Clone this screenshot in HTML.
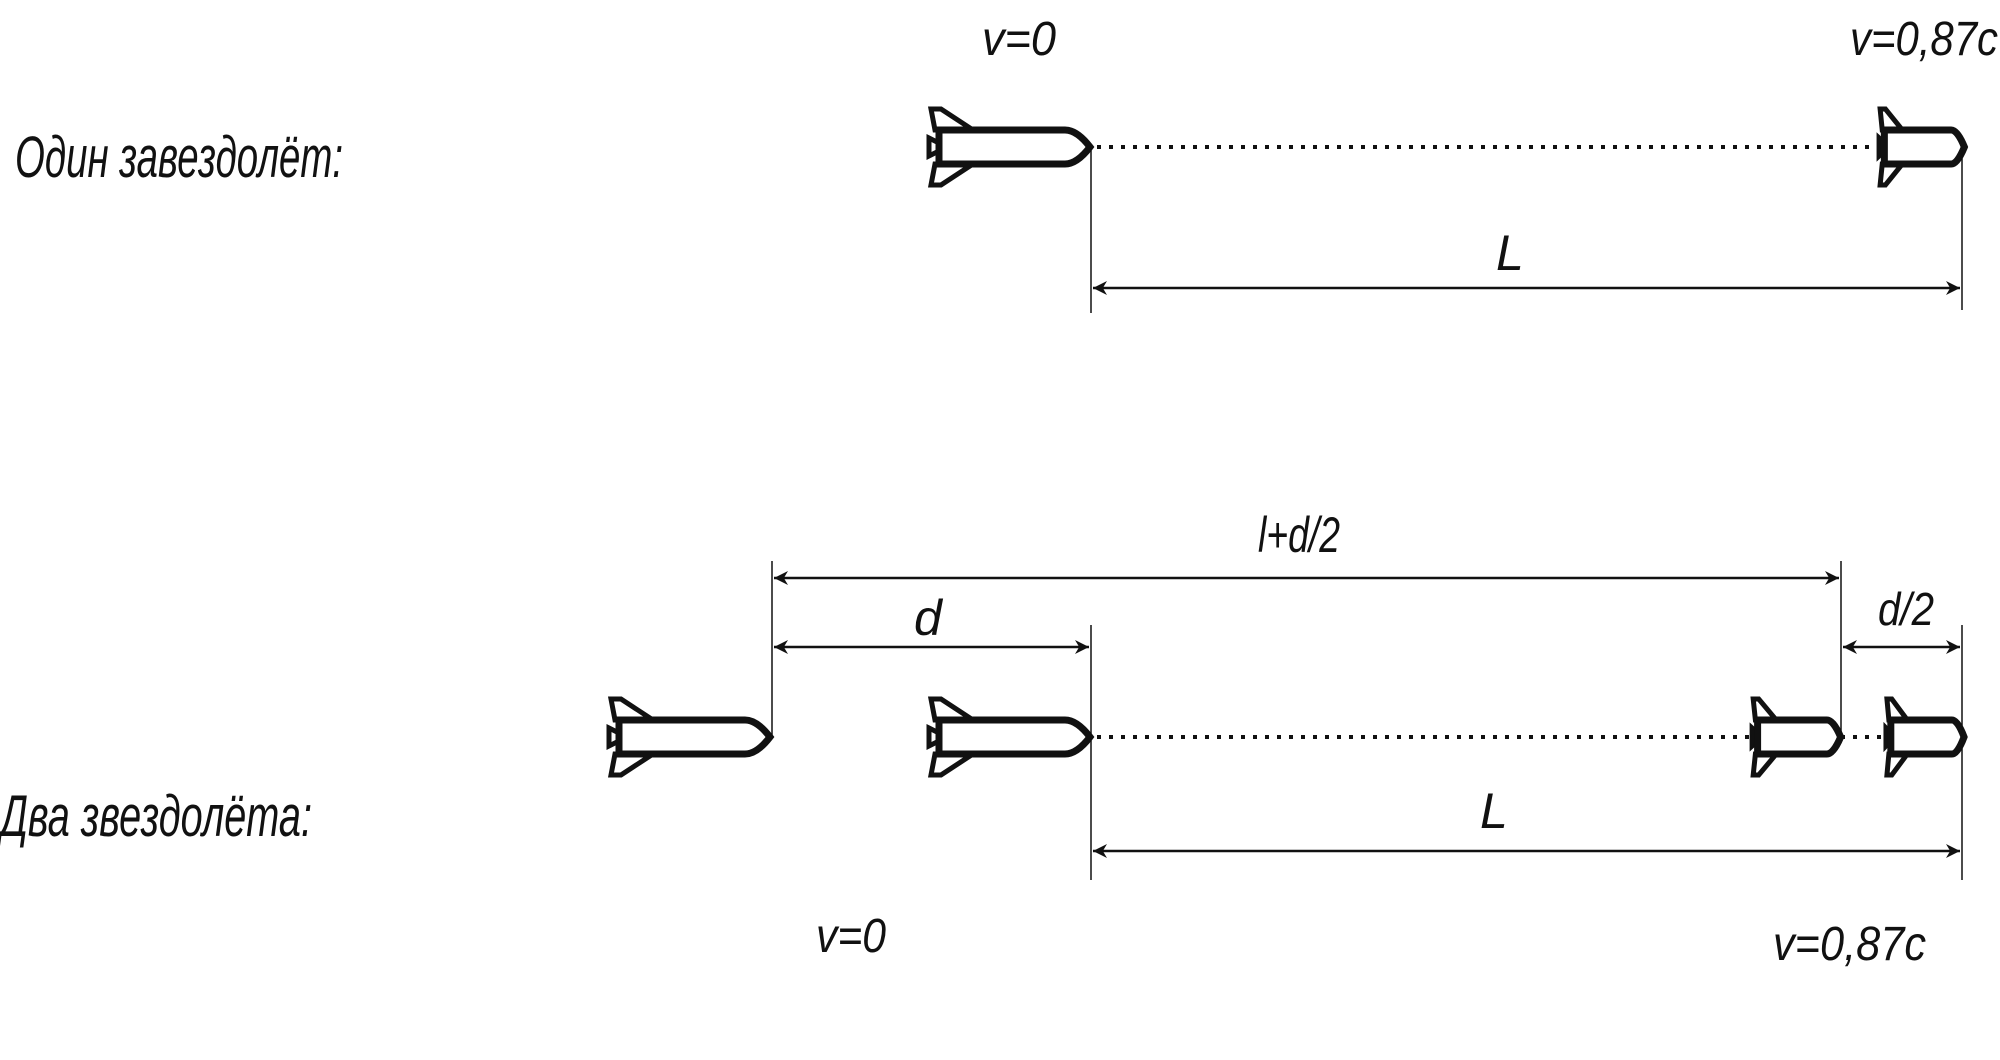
<!DOCTYPE html>
<html><head><meta charset="utf-8"><style>
html,body{margin:0;padding:0;background:#fff;}
svg{display:block}
text{font-family:"Liberation Sans","DejaVu Sans",sans-serif;font-style:italic;fill:#111;}
</style></head><body>
<svg width="2000" height="1060" viewBox="0 0 2000 1060" xmlns="http://www.w3.org/2000/svg">
<defs>
<g id="rk">
  <path d="M8,-17 L4,-38 L14,-38 L46,-17 Z M8,17 L4,38 L14,38 L46,17 Z" fill="#fff" stroke="#111" stroke-width="5" stroke-linejoin="miter" vector-effect="non-scaling-stroke"/>
  <path d="M2,-9 L12,-4 L12,4 L2,9 Z" fill="#fff" stroke="#111" stroke-width="5" vector-effect="non-scaling-stroke"/>
  <path d="M12,-17 H138 Q150,-17 163,0 Q150,17 138,17 H12 Z" fill="#fff" stroke="#111" stroke-width="7" vector-effect="non-scaling-stroke"/>
</g>
<marker id="ar" viewBox="0 0 10 10" refX="10" refY="5" markerWidth="14" markerHeight="14" markerUnits="userSpaceOnUse" orient="auto-start-reverse">
  <path d="M0,0 L10,5 L0,10 L3,5 Z" fill="#111"/>
</marker>
</defs>

<text x="15" y="177" font-size="58" textLength="328" lengthAdjust="spacingAndGlyphs">Один завездолёт:</text>
<text x="982" y="55" font-size="48" textLength="74" lengthAdjust="spacingAndGlyphs">v=0</text>
<text x="1850" y="55" font-size="48" textLength="148" lengthAdjust="spacingAndGlyphs">v=0,87c</text>

<line x1="1097" y1="147" x2="1958" y2="147" stroke="#111" stroke-width="4" stroke-dasharray="4,8"/>
<use href="#rk" transform="translate(927,147)"/>
<use href="#rk" transform="translate(1878,147) scale(0.53,1)"/>
<line x1="1091" y1="147" x2="1091" y2="313" stroke="#111" stroke-width="1.5"/>
<line x1="1962" y1="147" x2="1962" y2="310" stroke="#111" stroke-width="1.5"/>
<line x1="1093" y1="288" x2="1960" y2="288" stroke="#111" stroke-width="2.5" marker-start="url(#ar)" marker-end="url(#ar)"/>
<text x="1496" y="270" font-size="50">L</text>

<text x="0" y="836" font-size="58" textLength="312" lengthAdjust="spacingAndGlyphs">Два звездолёта:</text>
<text x="816" y="952" font-size="48" textLength="70" lengthAdjust="spacingAndGlyphs">v=0</text>
<text x="1773" y="960" font-size="48" textLength="153" lengthAdjust="spacingAndGlyphs">v=0,87c</text>

<line x1="1097" y1="737" x2="1962" y2="737" stroke="#111" stroke-width="4" stroke-dasharray="4,8"/>
<use href="#rk" transform="translate(607,737)"/>
<use href="#rk" transform="translate(927,737)"/>
<use href="#rk" transform="translate(1751,737) scale(0.55,1)"/>
<use href="#rk" transform="translate(1885,737) scale(0.485,1)"/>

<line x1="772" y1="561" x2="772" y2="737" stroke="#111" stroke-width="1.5"/>
<line x1="1841" y1="561" x2="1841" y2="737" stroke="#111" stroke-width="1.5"/>
<line x1="1091" y1="625" x2="1091" y2="880" stroke="#111" stroke-width="1.5"/>
<line x1="1962" y1="625" x2="1962" y2="880" stroke="#111" stroke-width="1.5"/>

<line x1="774" y1="578" x2="1839" y2="578" stroke="#111" stroke-width="2.5" marker-start="url(#ar)" marker-end="url(#ar)"/>
<text x="1258" y="552" font-size="50" textLength="82" lengthAdjust="spacingAndGlyphs">l+d/2</text>
<line x1="774" y1="647" x2="1089" y2="647" stroke="#111" stroke-width="2.5" marker-start="url(#ar)" marker-end="url(#ar)"/>
<text x="914" y="635" font-size="50">d</text>
<line x1="1843" y1="647" x2="1960" y2="647" stroke="#111" stroke-width="2.5" marker-start="url(#ar)" marker-end="url(#ar)"/>
<text x="1878" y="625" font-size="46" textLength="56" lengthAdjust="spacingAndGlyphs">d/2</text>
<line x1="1093" y1="851" x2="1960" y2="851" stroke="#111" stroke-width="2.5" marker-start="url(#ar)" marker-end="url(#ar)"/>
<text x="1480" y="828" font-size="50">L</text>
</svg>
</body></html>
